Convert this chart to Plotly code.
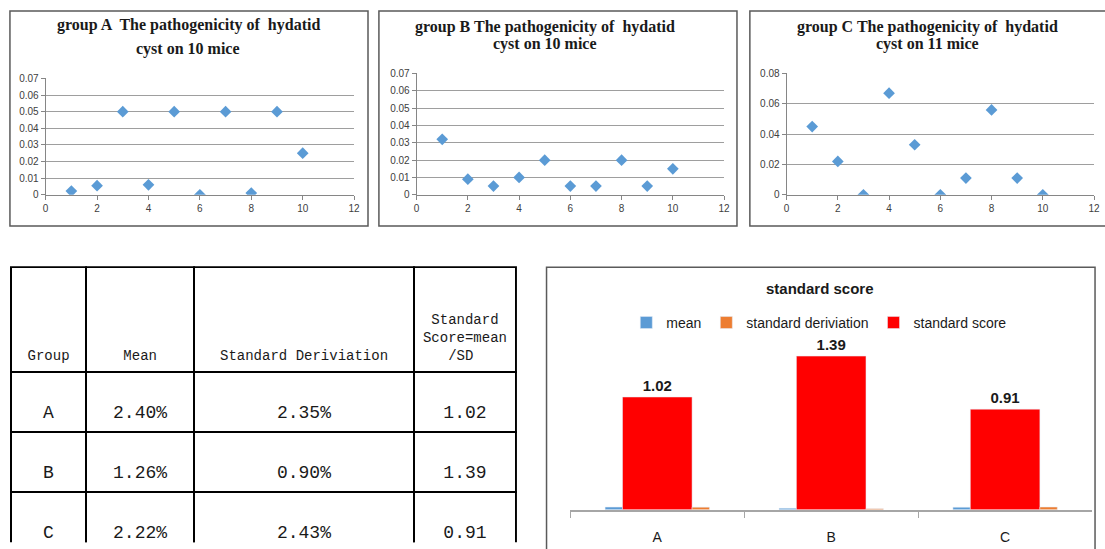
import plotly.graph_objects as go

# ---------------- data ----------------
mice = [1, 2, 3, 4, 5, 6, 7, 8, 9, 10]
group_a = [0.0022, 0.0055, 0.05, 0.006, 0.05, 0.0, 0.05, 0.001, 0.05, 0.025]
group_b = [0.032, 0.009, 0.005, 0.01, 0.02, 0.005, 0.005, 0.02, 0.005, 0.015]
group_c = [0.045, 0.022, 0.0, 0.067, 0.033, 0.0, 0.011, 0.056, 0.011, 0.0]

title_a = ["group A  The pathogenicity of  hydatid", "cyst on 10 mice"]
title_b = ["group B The pathogenicity of  hydatid", "cyst on 10 mice"]
title_c = ["group C The pathogenicity of  hydatid", "cyst on 11 mice"]

groups = ["A", "B", "C"]
mean_vals = [0.0240, 0.0126, 0.0222]
sd_vals = [0.0235, 0.0090, 0.0243]
score_vals = [1.02, 1.39, 0.91]

table_header = ["Group", "Mean", "Standard Deriviation", ["Standard", "Score=mean", "/SD"]]
mean_text = ["2.40%", "1.26%", "2.22%"]
sd_text = ["2.35%", "0.90%", "2.43%"]
score_text = ["1.02", "1.39", "0.91"]

bar_title = "standard score"
legend_names = ["mean", "standard deriviation", "standard score"]

# ---------------- helpers ----------------
W, H = 1105, 549
def px(x):
    return x / W
def py(y):
    return 1 - y / H

NB = "\u00a0"
def pad_lines(lines):
    """centre short lines in a monospace cell by padding with no-break spaces"""
    n = max(len(s) for s in lines)
    out = []
    for s in lines:
        extra = n - len(s)
        out.append(NB * (extra // 2) + s + NB * (extra - extra // 2))
    return out

def spaced(text, n):
    return (NB + "<br>") * n + text

BLUE = "#5B9BD5"
ORANGE = "#ED7D31"
RED = "#FF0000"
GRID = "#9E9E9E"
TICKFONT = dict(family="Liberation Sans, Arial, sans-serif", size=10, color="#404040")

fig = go.Figure()

# ---------------- scatter panels ----------------
panels = [
    dict(y=group_a, xd=(43, 354), yd=(193, 74), yr=0.07, dt=0.01, xa="x", ya="y", title=title_a,
         tx=187, ty=(19, 44), box=(7, 5, 368, 225)),
    dict(y=group_b, xd=(417, 727), yd=(193, 69), yr=0.07, dt=0.01, xa="x2", ya="y2", title=title_b,
         tx=546, ty=(21, 39), box=(379, 5, 740, 225)),
    dict(y=group_c, xd=(790, 1100), yd=(193, 69), yr=0.08, dt=0.02, xa="x3", ya="y3", title=title_c,
         tx=932, ty=(21, 39), box=(753, 5, 1112, 225)),
]

annotations = []
shapes = []
for i, p in enumerate(panels):
    fig.add_trace(go.Scatter(
        x=mice, y=p["y"], mode="markers", xaxis=p["xa"], yaxis=p["ya"], showlegend=False,
        marker=dict(symbol="diamond", size=9, color=BLUE),
    ))
    suffix = "" if i == 0 else str(i + 1)
    fig.update_layout(**{
        "xaxis" + suffix: dict(
            domain=[px(p["xd"][0]), px(p["xd"][1])], range=[0, 12], dtick=2, tick0=0,
            anchor="y" + suffix, showgrid=False, zeroline=False, showline=True,
            linecolor="#868686", linewidth=1, ticks="outside", ticklen=4, tickcolor="#868686",
            tickfont=TICKFONT, fixedrange=True,
        ),
        "yaxis" + suffix: dict(
            domain=[py(p["yd"][0]), py(p["yd"][1])], range=[0, p["yr"]], dtick=p["dt"], tick0=0,
            anchor="x" + suffix, showgrid=True, gridcolor=GRID, gridwidth=1, zeroline=False,
            showline=True, linecolor="#868686", linewidth=1, ticks="outside", ticklen=4,
            tickcolor="#868686", tickfont=TICKFONT, fixedrange=True,
        ),
    })
    for line, yy in zip(p["title"], p["ty"]):
        annotations.append(dict(
            x=px(p["tx"]), y=py(yy), xref="paper", yref="paper",
            text="<b>" + line.replace("  ", " " + NB) + "</b>",
            showarrow=False, xanchor="center", yanchor="middle",
            font=dict(family="Liberation Serif, Times New Roman, serif", size=16, color="#1a1a1a"),
        ))
    x0, y0, x1, y1 = p["box"]
    shapes.append(dict(type="rect", xref="paper", yref="paper", x0=px(x0), x1=px(x1),
                       y0=py(y1), y1=py(y0), line=dict(color="#5a5a5a", width=1.5)))

# ---------------- table ----------------
header_vals = [spaced(h, 4) if isinstance(h, str) else spaced("<br>".join(pad_lines(h)), 2)
               for h in table_header]
fig.add_trace(go.Table(
    domain=dict(x=[px(8), px(518)], y=[0, py(267)]),
    columnwidth=[76, 109, 222, 103],
    header=dict(
        values=header_vals,
        height=103, align="center", fill_color="white",
        line=dict(color="black", width=2),
        font=dict(family="Liberation Mono, Courier New, monospace", size=14, color="#1a1a1a"),
    ),
    cells=dict(
        values=[[spaced(g, 1) for g in groups], [spaced(t, 1) for t in mean_text],
                [spaced(t, 1) for t in sd_text], [spaced(t, 1) for t in score_text]],
        height=60, align="center", fill_color="white",
        line=dict(color="black", width=2),
        font=dict(family="Liberation Mono, Courier New, monospace", size=18, color="#1a1a1a"),
    ),
))

# ---------------- bar chart ----------------
fig.add_trace(go.Bar(
    x=groups, y=mean_vals, name=legend_names[0], marker_color=BLUE, width=0.1, offset=-0.3,
    xaxis="x4", yaxis="y4", legendrank=1, hoverinfo="y",
))
fig.add_trace(go.Bar(
    x=groups, y=score_vals, name=legend_names[2], marker_color=RED, width=0.4, offset=-0.2,
    xaxis="x4", yaxis="y4", legendrank=3, text=[f"{v:.2f}" for v in score_vals],
    textposition="outside", cliponaxis=False,
    textfont=dict(family="Liberation Sans, Arial, sans-serif", size=15, color="#1a1a1a", weight="bold"),
))
fig.add_trace(go.Bar(
    x=groups, y=sd_vals, name=legend_names[1], marker_color=ORANGE, width=0.1, offset=0.2,
    xaxis="x4", yaxis="y4", legendrank=2, hoverinfo="y",
))

fig.update_layout(
    xaxis4=dict(domain=[px(572), px(1098)], anchor="y4", type="category", showline=True,
                linecolor="#A6A6A6", linewidth=1.5, ticks="outside", tickson="boundaries",
                ticklen=7, tickcolor="#A6A6A6", showgrid=False, ticklabelstandoff=14,
                tickfont=dict(family="Liberation Sans, Arial, sans-serif", size=14, color="#1a1a1a"),
                fixedrange=True),
    yaxis4=dict(domain=[py(515), py(515 - 1.6 * 113)], range=[0, 1.6], anchor="x4", visible=False,
                fixedrange=True),
    barmode="overlay",
)
annotations.append(dict(
    x=px(824), y=py(289), xref="paper", yref="paper", text="<b>" + bar_title + "</b>",
    showarrow=False, xanchor="center", yanchor="middle",
    font=dict(family="Liberation Sans, Arial, sans-serif", size=15, color="#1a1a1a"),
))
shapes.append(dict(type="rect", xref="paper", yref="paper", x0=px(548), x1=px(1101),
                   y0=py(560), y1=py(267), line=dict(color="#5a5a5a", width=1.5)))

fig.update_layout(
    width=W, height=H, margin=dict(l=0, r=0, t=0, b=0),
    paper_bgcolor="white", plot_bgcolor="white",
    annotations=annotations, shapes=shapes,
    showlegend=True,
    legend=dict(orientation="h", x=px(823), y=py(324), xanchor="center", yanchor="middle",
                itemwidth=30, traceorder="normal",
                font=dict(family="Liberation Sans, Arial, sans-serif", size=14, color="#1a1a1a"),
                bgcolor="rgba(0,0,0,0)"),
)

fig.write_html("out.html", config={"displayModeBar": False},
               post_script="document.body.style.margin='0px';")
